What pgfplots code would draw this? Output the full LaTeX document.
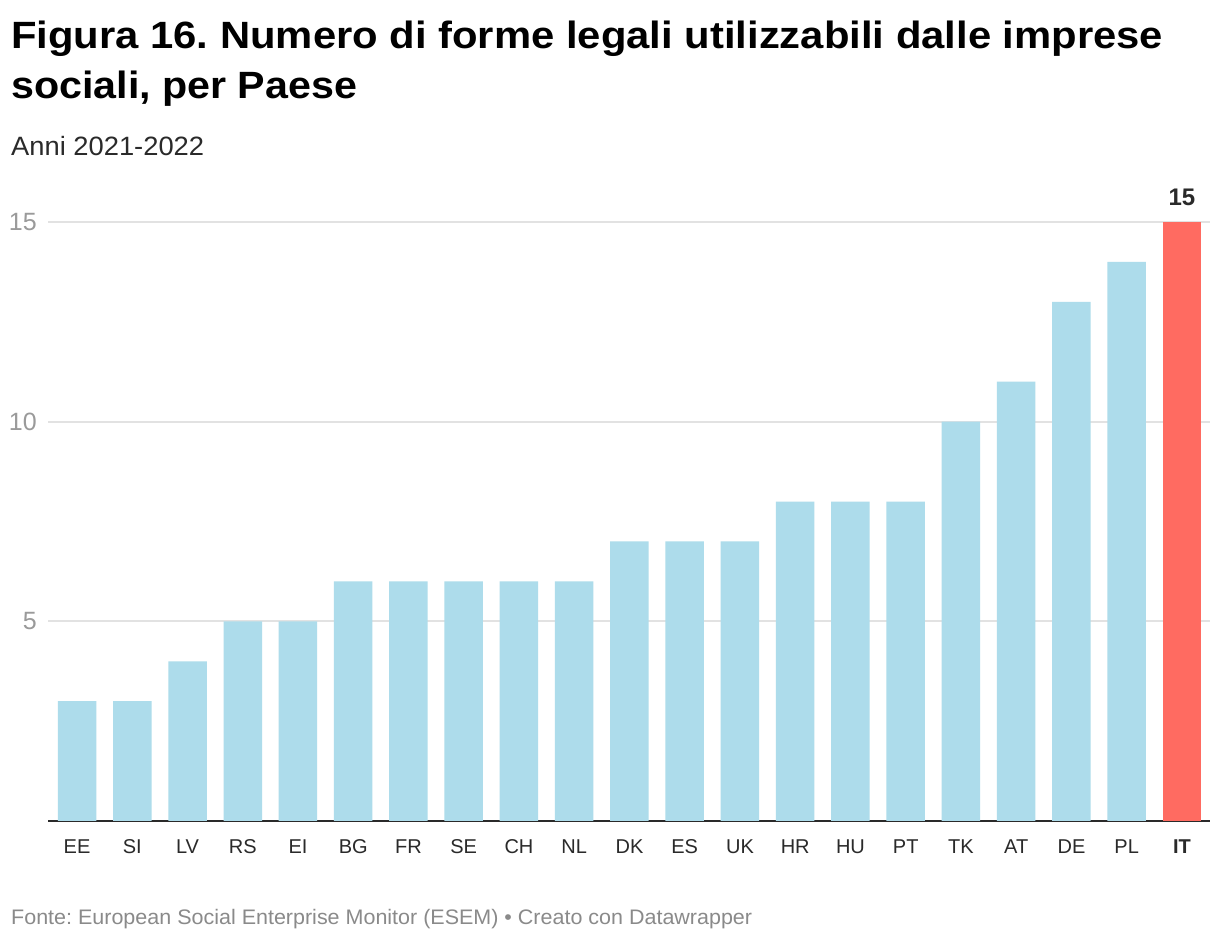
\documentclass[border=0pt]{standalone}
\usepackage{pgfplots}
\pgfplotsset{compat=1.18}
\usepackage{fontspec}
\setmainfont{Liberation Sans}
\frenchspacing
\definecolor{barblue}{HTML}{ADDCEB}
\definecolor{barred}{HTML}{FF6B61}
\definecolor{gridc}{HTML}{E2E2E2}
\definecolor{ylab}{HTML}{9A9A9A}
\definecolor{xlab}{HTML}{2A2A2A}
\definecolor{foot}{HTML}{8A8A8A}
\begin{document}
\begin{tikzpicture}[x=1pt,y=1pt]
\useasboundingbox[fill=white] (0,0) rectangle (1220,942);
\node[anchor=base west, inner sep=0] at (11,893) {\resizebox{1152pt}{\height}{\fontsize{38}{46}\selectfont\bfseries Figura 16. Numero di forme legali utilizzabili dalle imprese}};
\node[anchor=base west, inner sep=0] at (11,843) {\resizebox{346pt}{\height}{\fontsize{38}{46}\selectfont\bfseries sociali, per Paese}};
\node[anchor=base west, inner sep=0, text=xlab] at (11,786) {\resizebox{193pt}{\height}{\fontsize{26.5}{32}\selectfont Anni 2021-2022}};
\node[anchor=base west, inner sep=0, text=foot] at (11,18) {\resizebox{741pt}{\height}{\fontsize{21}{25}\selectfont Fonte: European Social Enterprise Monitor (ESEM) \textbullet\ Creato con Datawrapper}};
\begin{axis}[
  at={(48pt,121pt)}, anchor=south west,
  scale only axis, width=1162pt, height=599pt,
  xmin=-0.525, xmax=20.507, ymin=0, ymax=15,
  axis x line*=bottom, axis y line*=left,
  x axis line style={line width=2.5pt, color=xlab, -},
  y axis line style={draw=none},
  xtick={0,...,20},
  xticklabels={EE,SI,LV,RS,EI,BG,FR,SE,CH,NL,DK,ES,UK,HR,HU,PT,TK,AT,DE,PL,\textbf{IT}},
  xticklabel style={anchor=base, inner sep=0pt, yshift=-33pt, font=\fontsize{20}{24}\selectfont, text=xlab},
  ytick={5,10,15}, yticklabels={5,10,15},
  yticklabel style={anchor=east, inner sep=0pt, xshift=-11pt, font=\fontsize{25}{30}\selectfont, text=ylab},
  major tick length=0pt,
  ymajorgrids, major grid style={line width=2pt, color=gridc},
  clip=false,
]
\addplot[ybar, bar shift=0pt, bar width=38.5pt, fill=barblue, draw=none] coordinates {
(0,3) (1,3) (2,4) (3,5) (4,5) (5,6) (6,6) (7,6) (8,6) (9,6) (10,7) (11,7) (12,7) (13,8) (14,8) (15,8) (16,10) (17,11) (18,13) (19,14)};
\addplot[ybar, bar shift=0pt, bar width=38.5pt, fill=barred, draw=none,
  nodes near coords, nodes near coords style={anchor=south, inner sep=0pt, yshift=16pt, font=\fontsize{24}{28}\selectfont\bfseries, text=xlab},
  point meta=explicit symbolic] coordinates {(20,15) [15]};
\end{axis}
\end{tikzpicture}
\end{document}
